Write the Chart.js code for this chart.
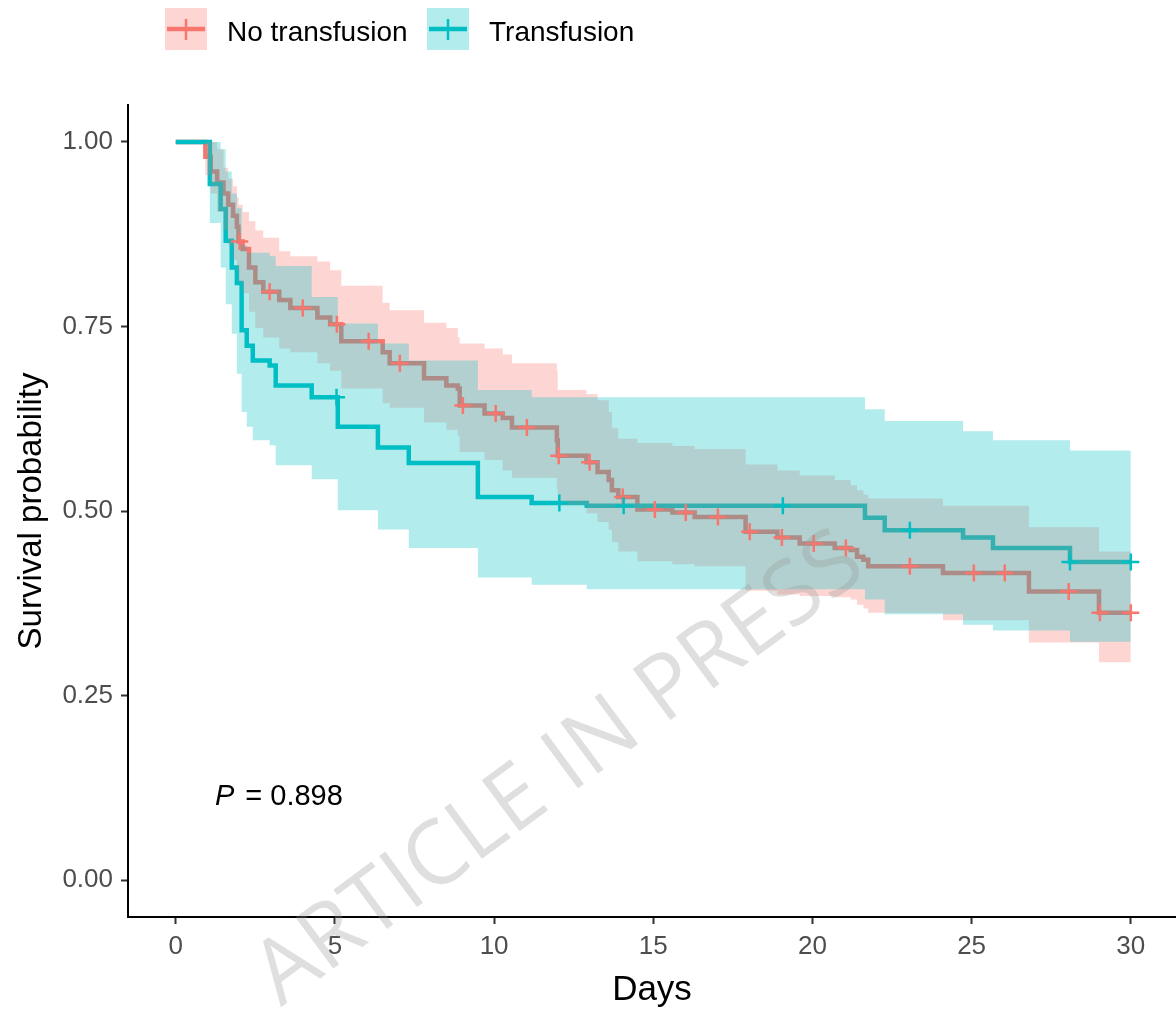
<!DOCTYPE html>
<html><head><meta charset="utf-8">
<script src="https://cdn.jsdelivr.net/npm/chart.js@4.4.1/dist/chart.umd.min.js"></script>
<style>html,body{margin:0;padding:0;background:#fff}#wrap{width:1176px;height:1011px;position:relative}</style>
</head><body><div id="wrap"><canvas id="c" width="1176" height="1011"></canvas></div>
<script>
// ---------- DATA ----------
const seriesNames = ['No transfusion', 'Transfusion'];
const xTicks = [0, 5, 10, 15, 20, 25, 30];
const yTicks = [0, 0.25, 0.5, 0.75, 1];
const pValueText = '0.898';

// No transfusion: event times, survival, CI upper, CI lower
const noTxTime  = [0, 0.93, 1.1, 1.3, 1.5, 1.65, 1.8, 1.92, 1.97, 2.1, 2.3, 2.5, 2.75, 3.25, 3.6, 4.45, 4.85, 5.2, 6.5, 6.72, 7.8, 8.5, 8.86, 8.92, 9.7, 10.27, 10.56, 11.97, 12.0, 12.9, 13.25, 13.6, 13.7, 13.9, 14.5, 15.6, 16.3, 17.9, 18.9, 19.6, 20.7, 21.2, 21.4, 21.6, 21.75, 24.1, 26.8, 29.0, 30.0];
const noTxSurv  = [1, 0.98, 0.96, 0.945, 0.93, 0.915, 0.90, 0.885, 0.865, 0.855, 0.83, 0.81, 0.797, 0.786, 0.775, 0.762, 0.753, 0.73, 0.715, 0.70, 0.680, 0.670, 0.666, 0.643, 0.632, 0.626, 0.613, 0.596, 0.575, 0.566, 0.553, 0.542, 0.528, 0.519, 0.502, 0.498, 0.492, 0.472, 0.464, 0.456, 0.45, 0.447, 0.438, 0.434, 0.425, 0.416, 0.391, 0.362, 0.362];
const noTxUpper = [1, 1.0, 1.0, 0.99, 0.965, 0.95, 0.94, 0.925, 0.915, 0.905, 0.893, 0.88, 0.87, 0.852, 0.845, 0.838, 0.826, 0.805, 0.782, 0.772, 0.755, 0.748, 0.735, 0.727, 0.72, 0.712, 0.70, 0.69, 0.664, 0.658, 0.65, 0.634, 0.612, 0.598, 0.592, 0.588, 0.584, 0.563, 0.555, 0.548, 0.542, 0.535, 0.528, 0.522, 0.517, 0.507, 0.478, 0.445, 0.445];
const noTxLower = [1, 0.955, 0.93, 0.905, 0.88, 0.86, 0.84, 0.825, 0.81, 0.795, 0.77, 0.748, 0.735, 0.72, 0.715, 0.70, 0.69, 0.666, 0.646, 0.64, 0.62, 0.61, 0.602, 0.58, 0.569, 0.555, 0.545, 0.53, 0.508, 0.497, 0.485, 0.475, 0.458, 0.445, 0.432, 0.428, 0.425, 0.392, 0.387, 0.385, 0.383, 0.38, 0.373, 0.368, 0.362, 0.352, 0.322, 0.295, 0.295];
const noTxCensorTime = [2.01, 2.95, 3.99, 5.06, 6.06, 7.04, 9.02, 10.05, 11.03, 12.03, 13.0, 14.04, 15.05, 16.02, 17.03, 18.03, 19.04, 20.04, 21.05, 23.06, 25.07, 26.04, 28.05, 29.03, 30.0];
const noTxCensorSurv = [0.865, 0.797, 0.775, 0.753, 0.73, 0.70, 0.643, 0.632, 0.613, 0.575, 0.566, 0.519, 0.502, 0.498, 0.492, 0.472, 0.464, 0.456, 0.45, 0.425, 0.416, 0.416, 0.391, 0.362, 0.362];

// Transfusion
const txTime  = [0, 1.07, 1.41, 1.57, 1.76, 1.92, 2.07, 2.23, 2.42, 2.95, 3.14, 4.27, 5.09, 6.35, 7.32, 9.49, 11.18, 12.91, 21.65, 22.27, 24.73, 25.67, 28.09, 30.0];
const txSurv  = [1, 0.943, 0.909, 0.866, 0.830, 0.809, 0.745, 0.724, 0.704, 0.697, 0.670, 0.654, 0.614, 0.586, 0.565, 0.519, 0.511, 0.507, 0.491, 0.474, 0.464, 0.450, 0.431, 0.431];
const txUpper = [1, 1.0, 0.99, 0.96, 0.93, 0.91, 0.86, 0.85, 0.85, 0.845, 0.832, 0.79, 0.754, 0.727, 0.704, 0.664, 0.654, 0.654, 0.638, 0.622, 0.608, 0.596, 0.582, 0.582];
const txLower = [1, 0.89, 0.83, 0.78, 0.74, 0.686, 0.634, 0.614, 0.596, 0.589, 0.562, 0.543, 0.501, 0.475, 0.45, 0.41, 0.40, 0.394, 0.38, 0.36, 0.346, 0.338, 0.323, 0.323];
const txCensorTime = [5.05, 12.05, 14.07, 19.07, 23.06, 28.09, 30.0];
const txCensorSurv = [0.654, 0.511, 0.507, 0.507, 0.474, 0.431, 0.431];

// ---------- STYLE ----------
const PINK = '#F8766D', TEAL = '#00BFC4';
const PINK_BAND = 'rgba(248,118,109,0.3)', TEAL_BAND = 'rgba(0,191,196,0.3)';
const FONT = '"Liberation Sans", Arial, sans-serif';
const NONE = 'rgba(0,0,0,0)';

function pts(t, v) { return t.map((x, i) => ({x: x, y: v[i]})); }

const band = (t, v, fillColor, order) => ({
  data: pts(t, v), stepped: 'before', borderColor: NONE, borderWidth: 0, pointRadius: 0,
  fill: fillColor ? {target: '+1'} : false, backgroundColor: fillColor || NONE, order: order
});

const datasets = [
  band(noTxTime, noTxUpper, PINK_BAND, 8),
  band(noTxTime, noTxLower, null, 7),
  band(txTime, txUpper, TEAL_BAND, 6),
  band(txTime, txLower, null, 5),
  {label: seriesNames[0], data: pts(noTxTime, noTxSurv), stepped: 'before', borderColor: PINK, borderWidth: 4.5,
   pointRadius: 0, fill: false, order: 10, borderCapStyle: 'butt', borderJoinStyle: 'miter'},
  {label: seriesNames[1], data: pts(txTime, txSurv), stepped: 'before', borderColor: TEAL, borderWidth: 4.5,
   pointRadius: 0, fill: false, order: 9, borderCapStyle: 'butt', borderJoinStyle: 'miter'},
  {data: pts(noTxCensorTime, noTxCensorSurv), showLine: false, pointStyle: 'cross', pointRadius: 8.5,
   pointBorderWidth: 2.5, pointBorderColor: PINK, borderColor: PINK, fill: false, order: 2},
  {data: pts(txCensorTime, txCensorSurv), showLine: false, pointStyle: 'cross', pointRadius: 8.5,
   pointBorderWidth: 2.5, pointBorderColor: TEAL, borderColor: TEAL, fill: false, order: 1}
];

const overlayPlugin = {
  id: 'overlay',
  afterDraw(chart) {
    const ctx = chart.ctx;
    // Legend
    const keys = [
      {x: 165, color: PINK, band: PINK_BAND, text: seriesNames[0], tx: 227},
      {x: 427, color: TEAL, band: TEAL_BAND, text: seriesNames[1], tx: 489}
    ];
    ctx.save();
    keys.forEach(k => {
      ctx.fillStyle = '#ffffff';
      ctx.fillRect(k.x, 8, 42, 42);
      ctx.fillStyle = k.band;
      ctx.fillRect(k.x, 8, 42, 42);
      ctx.strokeStyle = k.color;
      ctx.lineWidth = 4.5;
      ctx.beginPath(); ctx.moveTo(k.x + 2, 29); ctx.lineTo(k.x + 40, 29); ctx.stroke();
      ctx.lineWidth = 2.5;
      ctx.beginPath(); ctx.moveTo(k.x + 21, 19); ctx.lineTo(k.x + 21, 40); ctx.stroke();
      ctx.fillStyle = '#000';
      ctx.font = '28px ' + FONT;
      ctx.textBaseline = 'alphabetic';
      ctx.textAlign = 'left';
      ctx.fillText(k.text, k.tx, 41);
    });
    // P value
    const xs = chart.scales.x, ys = chart.scales.y;
    const px = xs.getPixelForValue(1.23), py = ys.getPixelForValue(0.113);
    ctx.fillStyle = '#000';
    ctx.textBaseline = 'middle';
    ctx.font = 'italic 29px ' + FONT;
    ctx.fillText('P', px, py);
    const w = ctx.measureText('P').width;
    ctx.font = '29px ' + FONT;
    ctx.fillText(' = ' + pValueText, px + w + 3, py);
    // Watermark
    ctx.translate(560, 770);
    ctx.rotate(-36.4 * Math.PI / 180);
    ctx.font = '400 89px "Open Sans", ' + FONT;
    ctx.textAlign = 'center';
    ctx.textBaseline = 'middle';
    ctx.fillStyle = 'rgba(150,150,150,0.30)';
    ctx.fillText('ARTICLE IN PRESS', 0, 0);
    ctx.restore();
  }
};

new Chart(document.getElementById('c'), {
  type: 'line',
  data: {datasets: datasets},
  options: {
    responsive: false, animation: false, devicePixelRatio: 1,
    layout: {autoPadding: false, padding: {top: 105, left: 0, right: 0, bottom: 0}},
    plugins: {legend: {display: false}, tooltip: {enabled: false}, filler: {propagate: false}},
    scales: {
      x: {
        type: 'linear', min: -1.5, max: 31.42,
        afterBuildTicks(s) { s.ticks = xTicks.map(v => ({value: v})); },
        afterFit(s) { s.height = 94; },
        ticks: {color: '#4D4D4D', font: {family: FONT, size: 26}, padding: 7, callback: v => String(v)},
        grid: {display: true, drawOnChartArea: false, drawTicks: true, tickLength: 7, tickColor: '#333333', tickWidth: 2},
        border: {display: true, color: '#000', width: 2},
        title: {display: true, text: 'Days', color: '#000', font: {family: FONT, size: 35}, padding: {top: 0, bottom: 0}}
      },
      y: {
        type: 'linear', min: -0.05, max: 1.05,
        afterBuildTicks(s) { s.ticks = yTicks.map(v => ({value: v})); },
        afterFit(s) { s.width = 128; },
        ticks: {color: '#4D4D4D', font: {family: FONT, size: 26}, padding: 8, callback: v => Number(v).toFixed(2)},
        grid: {display: true, drawOnChartArea: false, drawTicks: true, tickLength: 7, tickColor: '#333333', tickWidth: 2},
        border: {display: true, color: '#000', width: 2},
        title: {display: true, text: 'Survival probability', color: '#000', font: {family: FONT, size: 33}, padding: {top: 12, bottom: 0}}
      }
    }
  },
  plugins: [overlayPlugin]
});
</script></body></html>
